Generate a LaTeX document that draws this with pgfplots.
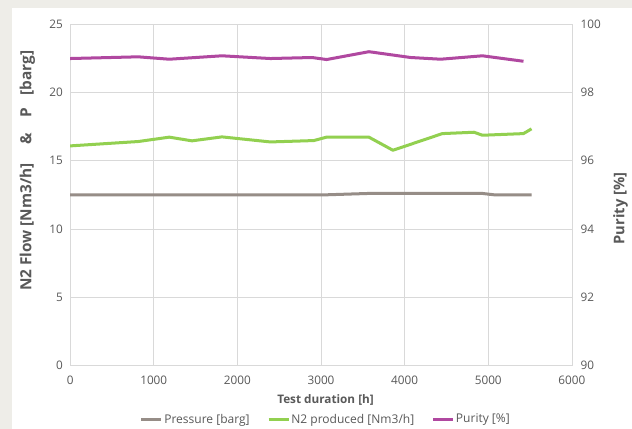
\documentclass[border=0pt]{standalone}
\usepackage{pgfplots}
\pgfplotsset{compat=1.18}
\usepackage{fontspec}
\setmainfont{Open Sans}
\definecolor{bgout}{RGB}{238,237,232}
\definecolor{gridc}{RGB}{217,217,217}
\definecolor{txt}{RGB}{89,89,89}
\definecolor{presc}{RGB}{150,141,135}
\definecolor{n2c}{RGB}{146,208,80}
\definecolor{purc}{RGB}{176,72,160}
\begin{document}
\begin{tikzpicture}[x=0.75pt,y=0.75pt]
\fill[bgout] (-70,-63) rectangle (561,365);
\fill[white] (-58,-63) rectangle (561,357);
\pgfplotsset{
  common/.style={
    at={(0,0)}, anchor=south west, scale only axis,
    width=375.75pt, height=255.75pt,
    xmin=0, xmax=6000,
    tick style={draw=none},
    axis line style={gridc},
    ticklabel style={font=\fontsize{8.8}{10}\selectfont, text=txt},
    /pgf/number format/assume math mode=true,
    scaled ticks=false,
  }
}
\begin{axis}[common,
  ymin=0, ymax=25, ytick={0,5,...,25},
  xtick={0,1000,...,6000},
  xticklabel style={/pgf/number format/1000 sep={}, yshift=-4pt},
  yticklabel style={xshift=-2pt},
  grid=major, major grid style={gridc, line width=0.6pt},
  ylabel={N2 Flow [Nm3/h]\hspace{14pt}\&\hspace{12pt}P\hspace{9pt}[barg]},
  ylabel style={at={(axis description cs:-0.085,0.57)}, anchor=center,
    font=\bfseries\fontsize{11.5}{12}\selectfont, text=txt},
  xlabel={Test duration [h]},
  xlabel style={at={(axis description cs:0.509,-0.10)}, anchor=center,
    font=\bfseries\fontsize{8.8}{10}\selectfont, text=txt},
]
\addplot[presc, line width=2.25pt, line join=round] coordinates {
(0,12.5)(3066,12.5)(3573,12.6)(4930,12.6)(5070,12.5)(5517,12.5)};
\addplot[n2c, line width=2.25pt, line join=round] coordinates {
(0,16.08)(814,16.4)(1186,16.72)(1457,16.45)(1816,16.74)(2395,16.37)(2914,16.47)(3066,16.72)(3573,16.72)(3860,15.76)(4451,16.98)(4830,17.08)(4930,16.86)(5421,16.98)(5517,17.33)};
\end{axis}
\begin{axis}[common,
  ymin=90, ymax=100, ytick={90,92,...,100},
  axis y line*=right, axis x line=none,
  yticklabel style={xshift=3pt},
  ylabel={Purity [\%]},
  ylabel style={at={(axis description cs:1.097,0.46)}, anchor=center,
    font=\bfseries\fontsize{11}{12}\selectfont, text=txt},
  legend columns=3,
  legend style={draw=none, fill=none, at={(axis description cs:0.509,-0.158)}, anchor=center,
    font=\fontsize{9}{10}\selectfont, text=txt,
    /tikz/every even column/.append style={column sep=12pt},
    inner sep=0pt, nodes={inner sep=1pt}},
  legend image code/.code={\draw[#1, line width=2.25pt] (0pt,0pt) -- (15pt,0pt);},
]
\addlegendimage{presc}
\addlegendentry{Pressure [barg]}
\addlegendimage{n2c}
\addlegendentry{N2 produced [Nm3/h]}
\addplot[purc, line width=2.25pt, line join=round] coordinates {
(0,98.99)(814,99.04)(1186,98.97)(1816,99.07)(2395,98.99)(2894,99.02)(3066,98.96)(3573,99.19)(4072,99.02)(4431,98.97)(4930,99.07)(5421,98.91)};
\addlegendentry{Purity [\%]}
\end{axis}
\pgfresetboundingbox
\path[use as bounding box] (-70,-63) rectangle (561,365);
\end{tikzpicture}
\end{document}
